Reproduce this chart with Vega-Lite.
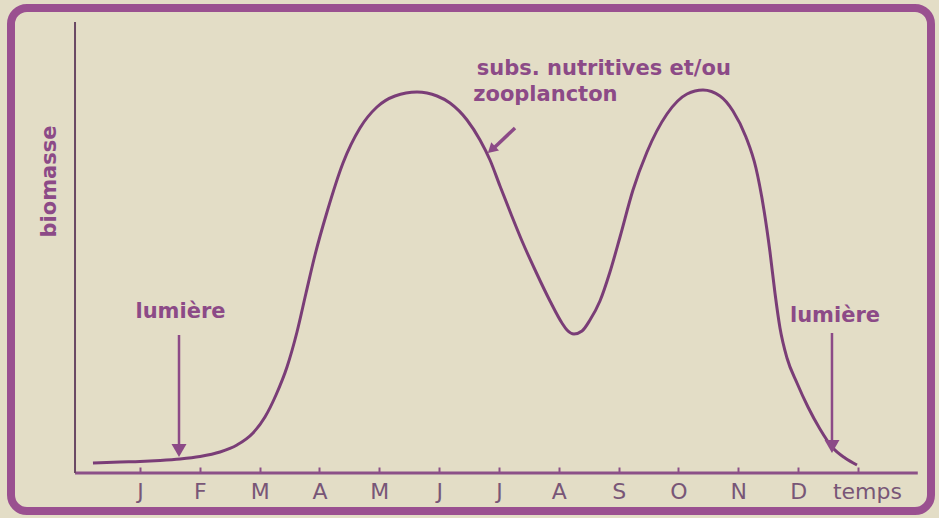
{
  "$schema": "https://vega.github.io/schema/vega-lite/v6.json",
  "width": 920,
  "height": 503,
  "autosize": {"type": "none"},
  "padding": {"left": 11, "top": 8, "right": 8, "bottom": 7},
  "background": "#e3ddc6",
  "config": {
    "view": {"stroke": "#9a5090", "strokeWidth": 8, "cornerRadius": 16, "fill": "#e3ddc6"},
    "font": "DejaVu Sans"
  },
  "datasets": {
    "curve": [
      {"m": -0.786, "v": 10}, {"m": -0.334, "v": 11}, {"m": 0, "v": 11.5}, {"m": 0.334, "v": 12.5},
      {"m": 0.669, "v": 14}, {"m": 1.003, "v": 16.5}, {"m": 1.337, "v": 21}, {"m": 1.621, "v": 28},
      {"m": 1.889, "v": 40}, {"m": 2.089, "v": 56}, {"m": 2.273, "v": 78}, {"m": 2.457, "v": 106},
      {"m": 2.624, "v": 141}, {"m": 2.775, "v": 180}, {"m": 2.925, "v": 218}, {"m": 3.126, "v": 261},
      {"m": 3.393, "v": 310}, {"m": 3.677, "v": 345}, {"m": 3.961, "v": 366}, {"m": 4.262, "v": 377},
      {"m": 4.63, "v": 381}, {"m": 4.965, "v": 377}, {"m": 5.181, "v": 370}, {"m": 5.466, "v": 353},
      {"m": 5.683, "v": 333}, {"m": 5.85, "v": 313}, {"m": 6.017, "v": 287}, {"m": 6.201, "v": 259},
      {"m": 6.385, "v": 232}, {"m": 6.619, "v": 201}, {"m": 6.853, "v": 172}, {"m": 7.053, "v": 150},
      {"m": 7.137, "v": 143}, {"m": 7.254, "v": 139}, {"m": 7.388, "v": 142}, {"m": 7.521, "v": 153},
      {"m": 7.688, "v": 172}, {"m": 7.855, "v": 201}, {"m": 8.023, "v": 236}, {"m": 8.24, "v": 283},
      {"m": 8.474, "v": 321}, {"m": 8.808, "v": 359}, {"m": 9.143, "v": 379}, {"m": 9.41, "v": 383},
      {"m": 9.694, "v": 377}, {"m": 9.911, "v": 362}, {"m": 10.128, "v": 336}, {"m": 10.295, "v": 305},
      {"m": 10.429, "v": 263}, {"m": 10.53, "v": 221}, {"m": 10.613, "v": 180}, {"m": 10.697, "v": 145},
      {"m": 10.814, "v": 115}, {"m": 10.981, "v": 90}, {"m": 11.165, "v": 66}, {"m": 11.365, "v": 44},
      {"m": 11.566, "v": 26}, {"m": 11.784, "v": 15}, {"m": 11.984, "v": 8}
    ],
    "xline": [{"m": -1.086, "m2": 13.0, "v": 0}],
    "yline": [{"m": -1.086, "v": 0, "v2": 451}],
    "labels": [
      {"m": 0.677, "v": 155, "text": "lumière"},
      {"m": 11.616, "v": 151, "text": "lumière"}
    ],
    "notes": [
      {"m": 5.63, "v": 398, "text": "subs. nutritives et/ou"},
      {"m": 5.57, "v": 372, "text": "zooplancton"}
    ],
    "vshafts": [
      {"m": 0.652, "v": 138, "v2": 27},
      {"m": 11.566, "v": 140, "v2": 31}
    ],
    "vheads": [
      {"m": 0.652, "v": 22.5},
      {"m": 11.566, "v": 26.5}
    ],
    "dshaft": [{"m": 6.268, "v": 345, "m2": 5.88, "v2": 323}],
    "dhead": [{"m": 5.875, "v": 323.3}]
  },
  "layer": [
    {
      "data": {"name": "curve"},
      "mark": {"type": "line", "interpolate": "monotone", "color": "#7a3d77", "strokeWidth": 3},
      "encoding": {
        "x": {
          "field": "m", "type": "quantitative",
          "scale": {"domain": [-2.156, 13.221], "nice": false, "zero": false},
          "axis": {
            "orient": "bottom", "offset": -38, "values": [0,1,2,3,4,5,6,7,8,9,10,11,12],
            "labelExpr": "['J','F','M','A','M','J','J','A','S','O','N','D','temps'][datum.value]",
            "domain": false, "grid": false, "title": null,
            "tickSize": -6, "tickWidth": 2, "tickColor": "#8c5088",
            "labelPadding": 14, "labelFont": "DejaVu Sans", "labelFontSize": 22,
            "labelColor": "#785677", "labelFlush": false, "labelOverlap": false,
            "labelOffset": {"condition": {"test": "datum.value == 12", "value": 9}, "value": 0}
          }
        },
        "y": {
          "field": "v", "type": "quantitative",
          "scale": {"domain": [-38, 465], "nice": false, "zero": false},
          "axis": {
            "orient": "left", "offset": -64, "domain": false, "ticks": false, "labels": false,
            "grid": false, "title": "biomasse", "titleFont": "DejaVu Sans", "titleFontWeight": "bold",
            "titleFontSize": 21, "titleColor": "#8c4a87", "titleX": -20, "titleY": 173,
            "titleBaseline": "alphabetic", "titleAngle": -90, "titleAlign": "center"
          }
        }
      }
    },
    {
      "data": {"name": "xline"},
      "mark": {"type": "rule", "color": "#8c5088", "strokeWidth": 3},
      "encoding": {
        "x": {"field": "m", "type": "quantitative"},
        "x2": {"field": "m2"},
        "y": {"field": "v", "type": "quantitative"}
      }
    },
    {
      "data": {"name": "yline"},
      "mark": {"type": "rule", "color": "#6a4864", "strokeWidth": 2},
      "encoding": {
        "x": {"field": "m", "type": "quantitative"},
        "y": {"field": "v", "type": "quantitative"},
        "y2": {"field": "v2"}
      }
    },
    {
      "data": {"name": "labels"},
      "mark": {"type": "text", "font": "DejaVu Sans", "fontWeight": "bold", "fontSize": 21, "color": "#8c4a87", "align": "center", "baseline": "alphabetic"},
      "encoding": {
        "x": {"field": "m", "type": "quantitative"},
        "y": {"field": "v", "type": "quantitative"},
        "text": {"field": "text"}
      }
    },
    {
      "data": {"name": "notes"},
      "mark": {"type": "text", "font": "DejaVu Sans", "fontWeight": "bold", "fontSize": 21, "color": "#8c4a87", "align": "left", "baseline": "alphabetic"},
      "encoding": {
        "x": {"field": "m", "type": "quantitative"},
        "y": {"field": "v", "type": "quantitative"},
        "text": {"field": "text"}
      }
    },
    {
      "data": {"name": "vshafts"},
      "mark": {"type": "rule", "color": "#8c4a87", "strokeWidth": 2.5},
      "encoding": {
        "x": {"field": "m", "type": "quantitative"},
        "y": {"field": "v", "type": "quantitative"},
        "y2": {"field": "v2"}
      }
    },
    {
      "data": {"name": "vheads"},
      "mark": {"type": "point", "shape": "triangle-down", "filled": true, "size": 225, "color": "#8c4a87", "opacity": 1},
      "encoding": {
        "x": {"field": "m", "type": "quantitative"},
        "y": {"field": "v", "type": "quantitative"}
      }
    },
    {
      "data": {"name": "dshaft"},
      "mark": {"type": "rule", "color": "#8c4a87", "strokeWidth": 3.5},
      "encoding": {
        "x": {"field": "m", "type": "quantitative"},
        "x2": {"field": "m2"},
        "y": {"field": "v", "type": "quantitative"},
        "y2": {"field": "v2"}
      }
    },
    {
      "data": {"name": "dhead"},
      "mark": {"type": "point", "shape": "triangle-down", "filled": true, "size": 130, "angle": 47, "color": "#8c4a87", "opacity": 1},
      "encoding": {
        "x": {"field": "m", "type": "quantitative"},
        "y": {"field": "v", "type": "quantitative"}
      }
    }
  ]
}
